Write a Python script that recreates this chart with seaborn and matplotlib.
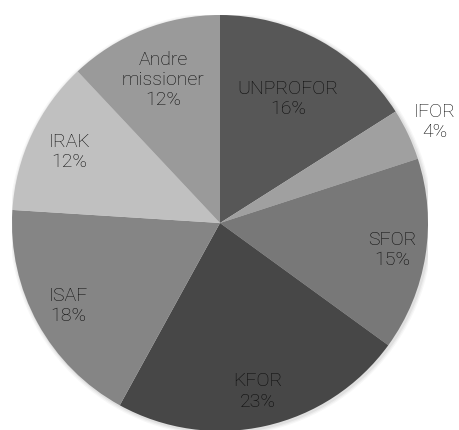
import numpy as np
import matplotlib
matplotlib.use("Agg")
import matplotlib.pyplot as plt
import seaborn as sns

missions = ["UNPROFOR", "IFOR", "SFOR", "KFOR", "ISAF", "IRAK", "Andre\nmissioner"]
shares = [16, 4, 15, 23, 18, 12, 12]
colors = ["#575757", "#a0a0a0", "#787878", "#474747", "#858585", "#c0c0c0", "#9a9a9a"]
label_dist = [0.68, 1.14, 0.84, 0.83, 0.83, 0.80, 0.74]

sns.set_theme(style="white")
plt.rcParams['font.family'] = ['Roboto', 'DejaVu Sans']

W, H = 459, 430
fig = plt.figure(figsize=(W / 100, H / 100), dpi=100)
cx, cy, R = 220, 223, 208
ax = fig.add_axes([(cx - R) / W, (H - cy - R) / H, 2 * R / W, 2 * R / H])
ax.set_xlim(-1, 1)
ax.set_ylim(-1, 1)
ax.set_aspect("equal")
ax.axis("off")

# subtle shadow
for i, a in enumerate([0.05, 0.04, 0.03]):
    c = plt.Circle((0.006, -0.006), 1 + 0.006 * (i + 1), color="black", alpha=a, lw=0)
    ax.add_patch(c)

wedges, _ = ax.pie(shares, colors=colors, startangle=90, counterclock=False,
                   radius=1, wedgeprops=dict(linewidth=0))
ax.set_xlim(-1, 1)
ax.set_ylim(-1, 1)

for w, name, val, d in zip(wedges, missions, shares, label_dist):
    ang = np.deg2rad((w.theta1 + w.theta2) / 2)
    ax.text(d * np.cos(ang), d * np.sin(ang), f"{name}\n{val}%", ha="center", va="center",
            fontsize=14, color="#0a0a0a", linespacing=1.15, fontweight="light")

fig.savefig("out.png", dpi=100)
